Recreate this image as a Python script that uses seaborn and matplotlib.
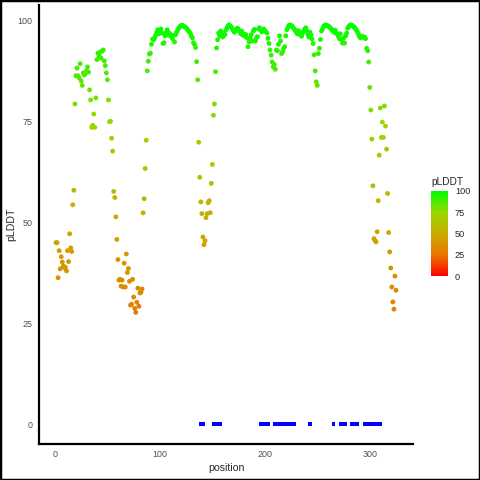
import numpy as np
import seaborn as sns
import matplotlib
matplotlib.use("Agg")
from matplotlib import pyplot as plt
from matplotlib.colors import LinearSegmentedColormap, Normalize
from matplotlib.cm import ScalarMappable
from matplotlib.patches import Rectangle

# per-residue pLDDT, residues 1..325 (10 per row)
plddt = [
    45.0, 45.0, 36.3, 43.0, 38.5, 41.5, 40.2, 39.2, 38.8, 38.9,
    38.0, 43.0, 40.3, 47.2, 43.7, 42.8, 54.4, 58.0, 79.4, 86.4,
    88.3, 86.4, 85.9, 89.4, 85.1, 84.0, 87.1, 86.6, 87.0, 87.6,
    88.6, 87.3, 82.9, 80.4, 73.6, 74.1, 76.9, 73.6, 80.9, 90.4,
    92.0, 91.3, 92.3, 90.8, 92.5, 92.8, 90.1, 88.9, 87.1, 85.4,
    80.4, 75.0, 75.1, 70.9, 67.7, 57.7, 56.2, 51.4, 45.8, 40.8,
    35.7, 35.9, 34.2, 35.7, 34.0, 39.9, 34.0, 42.2, 37.6, 38.6,
    35.4, 29.5, 29.7, 35.9, 31.5, 28.7, 27.7, 30.2, 33.7, 29.2,
    32.5, 32.7, 33.5, 52.4, 55.9, 63.4, 70.4, 87.6, 90.0, 91.8,
    92.0, 94.2, 95.5, 95.3, 95.8, 96.5, 97.2, 97.8, 96.8, 97.5,
    98.0, 97.0, 94.4, 94.6, 96.3, 97.2, 97.8, 96.6, 97.0, 96.2,
    96.5, 95.6, 96.4, 94.8, 96.6, 97.2, 97.8, 98.2, 98.6, 98.8,
    98.9, 98.8, 98.6, 98.5, 98.3, 98.0, 97.6, 97.3, 96.9, 96.2,
    95.8, 94.6, 94.2, 93.4, 89.9, 85.4, 69.9, 61.2, 55.1, 52.2,
    46.4, 44.5, 45.5, 51.2, 52.2, 54.9, 55.4, 52.4, 59.7, 64.4,
    76.6, 79.4, 87.4, 93.3, 95.3, 97.0, 96.3, 97.5, 96.8, 96.0,
    97.0, 96.6, 97.8, 98.3, 98.8, 99.0, 98.7, 98.5, 98.0, 97.6,
    97.2, 97.6, 98.0, 98.2, 97.8, 97.3, 96.8, 97.5, 96.5, 96.8,
    96.2, 96.6, 95.8, 93.6, 94.8, 95.7, 96.6, 95.0, 97.5, 97.9,
    95.0, 95.8, 96.1, 98.0, 98.3, 97.8, 97.3, 97.9, 98.0, 97.6,
    97.3, 97.0, 95.7, 94.4, 92.8, 91.5, 89.8, 88.6, 89.2, 88.0,
    92.8, 92.6, 94.2, 96.3, 95.0, 91.9, 92.4, 93.2, 93.6, 96.3,
    97.8, 98.4, 98.9, 99.0, 98.9, 98.7, 98.3, 98.0, 97.6, 97.2,
    96.8, 97.6, 97.0, 96.5, 96.2, 97.0, 97.5, 98.0, 98.3, 97.6,
    96.6, 96.0, 97.2, 96.5, 95.5, 94.4, 91.6, 87.6, 84.9, 84.0,
    91.9, 93.2, 95.4, 97.5, 98.0, 98.6, 98.9, 99.0, 98.9, 98.8,
    98.6, 98.4, 98.1, 97.8, 97.5, 97.2, 97.7, 96.9, 96.9, 96.2,
    95.6, 96.8, 95.4, 94.5, 95.7, 94.5, 96.3, 97.0, 98.2, 98.6,
    98.9, 99.0, 98.9, 98.7, 98.5, 98.2, 97.8, 97.4, 96.8, 96.2,
    95.8, 96.0, 96.2, 95.9, 96.0, 95.6, 93.2, 92.6, 89.8, 83.5,
    77.9, 70.7, 59.1, 46.0, 45.5, 45.2, 47.7, 55.4, 66.7, 78.4,
    71.1, 74.9, 71.1, 78.9, 73.9, 68.2, 57.2, 47.5, 42.7, 38.7,
    34.0, 30.3, 28.5, 36.7, 33.2,
]
position = np.arange(1, len(plddt) + 1)

# blue marked stretches drawn at y = 0
region_start = [137, 150, 194, 208, 241, 264, 271, 281, 294]
region_end = [143, 159, 205, 230, 245, 267, 278, 290, 312]

x_ticks = [0, 100, 200, 300]
y_ticks = [0, 25, 50, 75, 100]

# red -> green gradient (Lab-like, like ggplot's default interpolation)
cmap = LinearSegmentedColormap.from_list(
    "plddt", [(0.0, "#FF0000"), (0.25, "#E87700"), (0.5, "#C8AB00"),
              (0.75, "#98D700"), (1.0, "#00FF00")])
norm = Normalize(0, 100)

sns.set_style("white")
plt.rcParams['font.family'] = ['Liberation Sans', 'DejaVu Sans']

fig = plt.figure(figsize=(4.8, 4.8), dpi=100)
ax = fig.add_axes([39/480, 36/480, 374/480, 439/480])

sns.scatterplot(x=position, y=plddt, hue=plddt, palette=cmap, hue_norm=norm,
                s=12, linewidth=0, legend=False, ax=ax)
ax.hlines([0] * len(region_start), region_start, region_end,
          color="#0000FF", linewidth=2.9)

xr = position.max() - position.min()
ax.set_xlim(position.min() - 0.05 * xr, position.max() + 0.05 * xr)
yr = max(plddt) - 0
ax.set_ylim(0 - 0.05 * yr, max(plddt) + 0.05 * yr)

ax.set_xticks(x_ticks)
ax.set_yticks(y_ticks)
ax.tick_params(length=0, labelsize=6.4, labelcolor="#4D4D4D", pad=4.5)
ax.set_xlabel("position", fontsize=7.6, labelpad=3)
ax.set_ylabel("pLDDT", fontsize=7.6, labelpad=1)

for side in ["top", "right"]:
    ax.spines[side].set_visible(False)
for side in ["left", "bottom"]:
    ax.spines[side].set_color("black")
    ax.spines[side].set_linewidth(1.6)
ax.grid(False)

# colour bar legend
cax = fig.add_axes([431/480, (480-276)/480, 17/480, 85/480])
cb = fig.colorbar(ScalarMappable(norm=norm, cmap=cmap), cax=cax, ticks=y_ticks)
cb.outline.set_visible(False)
cax.tick_params(direction="in", color="white", length=3, width=0.8,
                left=True, right=True, labelsize=6.6, pad=5)
cax.set_title("pLDDT", fontsize=7.3, loc="left", pad=4)

fig.patches.append(Rectangle((0, 0), 1, 1, transform=fig.transFigure,
                             fill=False, edgecolor="black", linewidth=2.5))

plt.savefig("out.png", dpi=100)
